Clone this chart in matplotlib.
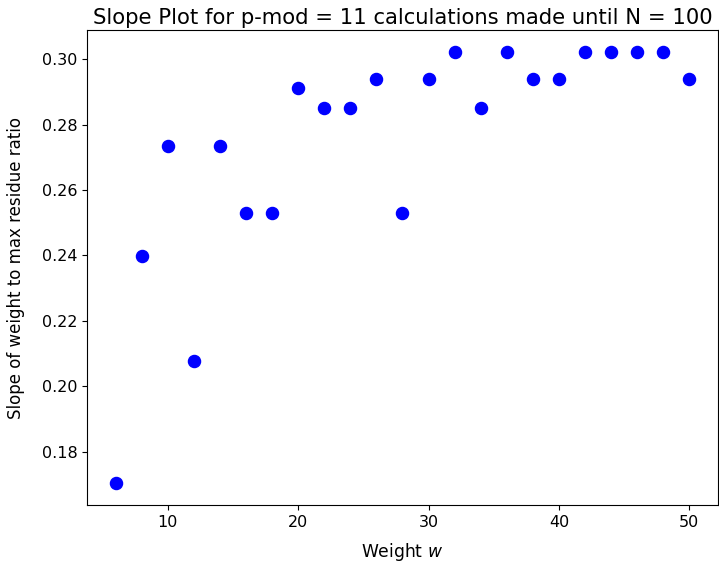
import matplotlib
matplotlib.use("Agg")
import matplotlib.pyplot as plt

# pesos w e inclinação estimada
weights = [6, 8, 10, 12, 14, 16, 18, 20, 22, 24, 26, 28,
           30, 32, 34, 36, 38, 40, 42, 44, 46, 48, 50]
slopes = [0.1703, 0.2399, 0.2733, 0.2077, 0.2733, 0.2531, 0.2531, 0.2911,
          0.2852, 0.2852, 0.2938, 0.2531, 0.2938, 0.3023, 0.2852, 0.3023,
          0.2938, 0.2938, 0.3023, 0.3023, 0.3023, 0.3023, 0.2938]

OUTPUT = "out.png"


def main():
    fig = plt.figure(figsize=(7.19, 5.62), dpi=100)
    ax = fig.add_axes([0.121, 0.1014, 0.8776, 0.8452])
    ax.plot(weights, slopes, "o", color="blue", markersize=8.7)
    ax.set_title("Slope Plot for p-mod = 11 calculations made until N = 100",
                 fontsize=15.2, pad=4)
    ax.set_xlabel("Weight $w$", fontsize=12.3, labelpad=8)
    ax.set_ylabel("Slope of weight to max residue ratio", fontsize=12, labelpad=12)
    ax.tick_params(labelsize=11.5)
    fig.savefig(OUTPUT, dpi=100)
    plt.close(fig)


if __name__ == "__main__":
    main()
